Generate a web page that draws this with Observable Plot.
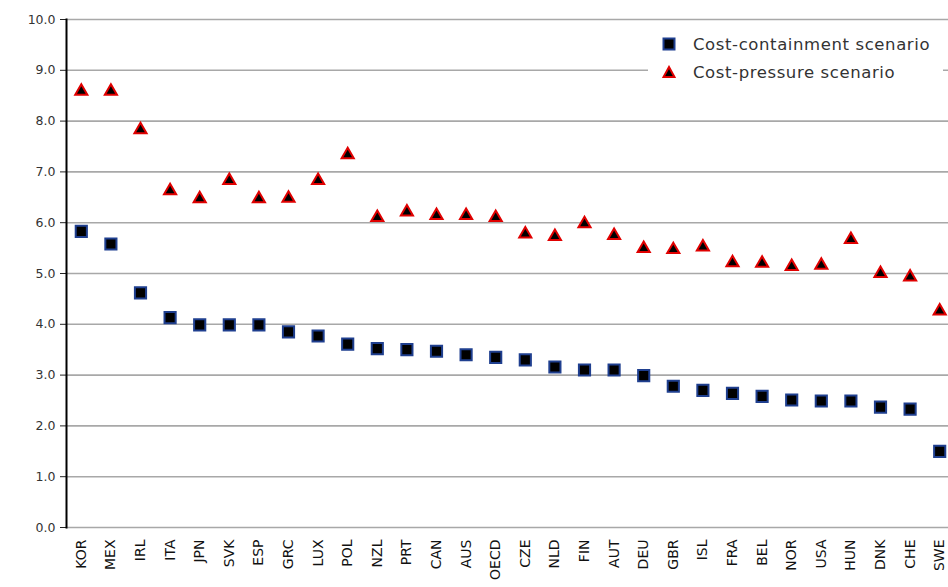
<!DOCTYPE html>
<html>
<head>
<meta charset="utf-8">
<script src="https://cdn.jsdelivr.net/npm/d3@7"></script>
<script src="https://cdn.jsdelivr.net/npm/@observablehq/plot@0.6"></script>
<style>
  html, body { margin: 0; padding: 0; background: #fff; }
  #wrap { position: relative; width: 948px; height: 587px; overflow: hidden; font-family: "DejaVu Sans", sans-serif; }
  #legend { position: absolute; left: 648px; top: 28px; width: 295px; background: #fff; padding: 2px 0 4px 0; }
  .item { display: flex; align-items: center; height: 28px; font-size: 16.5px; color: #333; letter-spacing: 0.6px; white-space: nowrap; }
  .item svg { margin-left: 14px; margin-right: 17px; flex: none; }
</style>
</head>
<body>
<div id="wrap">
  <div id="chart"></div>
  <div id="legend">
    <div class="item"><svg width="14" height="14"><rect x="1.5" y="1.5" width="11" height="11" fill="#000" stroke="#1f3f8f" stroke-width="2"/></svg>Cost-containment scenario</div>
    <div class="item"><svg width="14" height="14"><path d="M7,2 L12.5,12 L1.5,12 Z" fill="#000" stroke="#e00000" stroke-width="2"/></svg>Cost-pressure scenario</div>
  </div>
</div>
<script>
const countries = ["KOR","MEX","IRL","ITA","JPN","SVK","ESP","GRC","LUX","POL","NZL","PRT","CAN","AUS","OECD","CZE","NLD","FIN","AUT","DEU","GBR","ISL","FRA","BEL","NOR","USA","HUN","DNK","CHE","SWE"];
const costContainment = [5.83,5.58,4.62,4.13,3.99,3.99,3.99,3.85,3.77,3.61,3.52,3.50,3.47,3.40,3.35,3.30,3.16,3.10,3.10,2.99,2.78,2.70,2.64,2.58,2.51,2.49,2.49,2.37,2.33,1.50];
const costPressure = [8.59,8.59,7.83,6.63,6.47,6.83,6.47,6.48,6.83,7.34,6.10,6.21,6.14,6.14,6.10,5.78,5.73,5.98,5.75,5.49,5.47,5.52,5.21,5.20,5.14,5.16,5.67,5.00,4.93,4.26];
const yTicks = [0,1,2,3,4,5,6,7,8,9,10];

const containment = countries.map((c, i) => ({country: c, value: costContainment[i]}));
const pressure = countries.map((c, i) => ({country: c, value: costPressure[i]}));

const chart = Plot.plot({
  width: 948,
  height: 587,
  marginLeft: 66,
  marginRight: 0,
  marginTop: 19,
  marginBottom: 60,
  style: {fontFamily: "'DejaVu Sans', sans-serif", fontSize: "12px", color: "#222", background: "#fff"},
  x: {type: "band", domain: countries, range: [66, 954], padding: 0, round: false, label: null},
  y: {domain: [0, 10], label: null},
  marks: [
    Plot.gridY(yTicks, {stroke: "#a8a8a8", strokeOpacity: 1, strokeWidth: 1.6}),
    Plot.axisY(yTicks, {tickFormat: d => d.toFixed(1), tickSize: 6, tickPadding: 5, fontSize: 12.5, fill: "#333", label: null}),
    Plot.frame({anchor: "left", stroke: "#000", strokeWidth: 2}),
    Plot.axisX({tickRotate: -90, tickSize: 0, tickPadding: 12, fontSize: 14, fill: "#111", label: null}),
    Plot.dot(pressure, {x: "country", y: "value", symbol: "triangle", r: 4.5, fill: "#000", stroke: "#e00000", strokeWidth: 2}),
    Plot.dot(containment, {x: "country", y: "value", symbol: "square", r: 6.3, fill: "#000", stroke: "#1f3f8f", strokeWidth: 2})
  ]
});
document.getElementById("chart").appendChild(chart);
</script>
</body>
</html>
